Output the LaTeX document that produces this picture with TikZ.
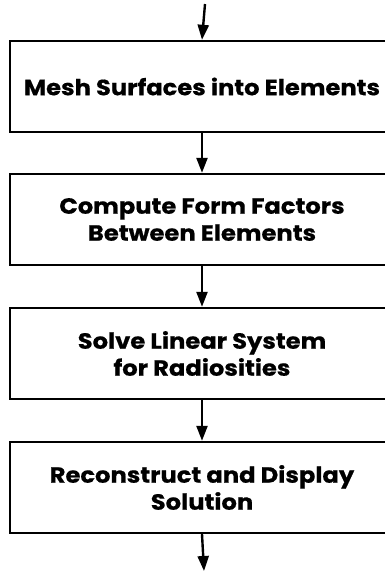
\documentclass[tikz,border=0pt]{standalone}
\usepackage{fontspec}
\setmainfont{Poppins}[BoldFeatures={FakeStretch=1.1,FakeBold=0.6}]
\usetikzlibrary{arrows.meta}
\begin{document}
\begin{tikzpicture}[x=1pt,y=1pt,
  stepbox/.style={draw=black, line width=2.4pt, minimum width=384pt, minimum height=91pt,
    inner sep=0pt, align=center, font=\fontsize{22}{27}\selectfont\bfseries},
  arr/.style={line width=2.4pt, -{Triangle[length=15pt,width=11pt]}}]
\useasboundingbox (0,0) rectangle (385,-571);
\node[stepbox] (b1) at (202,-86.5) {Mesh Surfaces into Elements};
\node[stepbox] (b2) at (202,-219.5) {Compute Form Factors\\Between Elements};
\node[stepbox] (b3) at (202,-353.5) {Solve Linear System\\for Radiosities};
\node[stepbox] (b4) at (202,-487.5) {Reconstruct and Display\\Solution};
\coordinate (start) at (205,-4);
\coordinate (finish) at (204,-571);
\draw[arr] (start) -- (b1.north);
\draw[arr] (b1.south) -- (b2.north);
\draw[arr] (b2.south) -- (b3.north);
\draw[arr] (b3.south) -- (b4.north);
\draw[arr] (b4.south) -- (finish);
\end{tikzpicture}
\end{document}
